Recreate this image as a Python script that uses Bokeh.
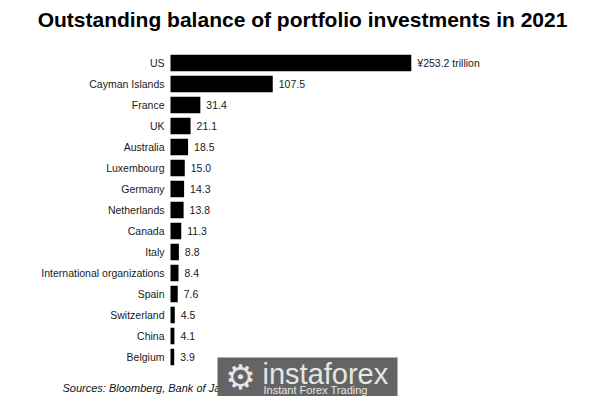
from bokeh.plotting import figure
from bokeh.models import Range1d, Label, BoxAnnotation, ColumnDataSource
from bokeh.core.properties import value
from bokeh.embed import file_html
from bokeh.resources import INLINE

countries = ["US", "Cayman Islands", "France", "UK", "Australia", "Luxembourg",
             "Germany", "Netherlands", "Canada", "Italy",
             "International organizations", "Spain", "Switzerland", "China", "Belgium"]
values = [253.2, 107.5, 31.4, 21.1, 18.5, 15.0, 14.3, 13.8, 11.3, 8.8, 8.4, 7.6, 4.5, 4.1, 3.9]
value_labels = ["¥253.2 trillion", "107.5", "31.4", "21.1", "18.5", "15.0", "14.3", "13.8",
                "11.3", "8.8", "8.4", "7.6", "4.5", "4.1", "3.9"]
title_text = "Outstanding balance of portfolio investments in 2021"
source_text = "Sources: Bloomberg, Bank of Japan"

W, H = 597, 396
PX = 0.951      # pixels per trillion yen
X0 = 170        # pixel where zero sits
ROW = 21.0      # pixels per row
Y0 = 62.5       # pixel centre of first row

FONT = "Liberation Sans"

src = ColumnDataSource(dict(
    country=countries,
    val=values,
    lab=value_labels,
    row=list(range(len(countries))),
))

p = figure(width=W, height=H, output_backend="svg", toolbar_location=None,
           title=None,
           x_range=Range1d(-X0 / PX, (W - X0) / PX),
           y_range=Range1d((H - Y0) / ROW, -Y0 / ROW),
           min_border=0, outline_line_color=None)
p.axis.visible = False
p.grid.visible = False
p.background_fill_color = "white"
p.border_fill_color = "white"

p.hbar(y="row", left=0, right="val", height=0.78, source=src,
       fill_color="#000000", line_color=None)

p.text(x=0, y="row", text="country", source=src, x_offset=-6,
       text_align="right", text_baseline="middle",
       text_font=value(FONT), text_font_size="10.5px", text_color="#1a1a1a")

p.text(x="val", y="row", text="lab", source=src, x_offset=6,
       text_align="left", text_baseline="middle",
       text_font=value(FONT), text_font_size="10.5px", text_color="#1a1a1a")

p.add_layout(Label(x=302, y=H - 19, x_units="screen", y_units="screen",
                   text=title_text, text_align="center", text_baseline="middle",
                   text_font=FONT, text_font_size="21px", text_font_style="bold",
                   text_color="#000000"))

p.add_layout(Label(x=62, y=H - 387, x_units="screen", y_units="screen",
                   text=source_text, text_align="left", text_baseline="middle",
                   text_font=FONT, text_font_size="11px", text_font_style="italic",
                   text_color="#111111"))

# watermark
p.add_layout(BoxAnnotation(left=217, right=397, bottom=0, top=H - 357,
                           left_units="screen", right_units="screen",
                           bottom_units="screen", top_units="screen",
                           fill_color="#646464", fill_alpha=1.0, line_color=None))
p.add_layout(Label(x=240, y=H - 376, x_units="screen", y_units="screen",
                   text="⚙", text_align="center", text_baseline="middle",
                   text_font="DejaVu Sans", text_font_size="34px",
                   text_color="#e6e6e6"))
p.add_layout(Label(x=262, y=H - 373, x_units="screen", y_units="screen",
                   text="instaforex", text_align="left", text_baseline="middle",
                   text_font=FONT, text_font_size="29px", text_color="#e6e6e6"))
p.add_layout(Label(x=263, y=H - 389, x_units="screen", y_units="screen",
                   text="Instant Forex Trading", text_align="left",
                   text_baseline="middle",
                   text_font=FONT, text_font_size="11px", text_color="#e6e6e6"))

open("out.html", "w").write(file_html(p, INLINE))
